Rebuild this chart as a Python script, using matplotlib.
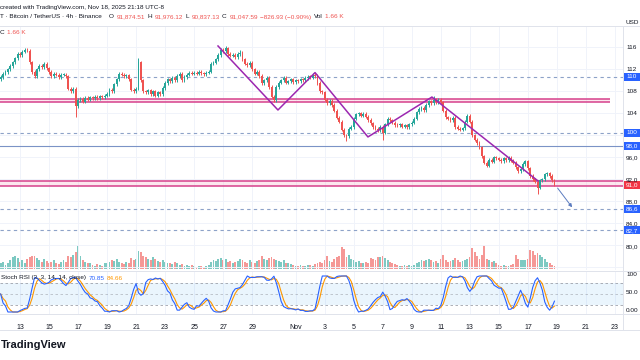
import matplotlib
matplotlib.use("Agg")
import matplotlib.pyplot as plt
import matplotlib.dates as mdates
from matplotlib.lines import Line2D
from matplotlib.patches import Rectangle
import numpy as np
import pandas as pd

plt.rcParams['font.family'] = ['Liberation Sans', 'DejaVu Sans']

# BTCUSDT 4h closes (thousands), UTC-8, first bar Oct 11 16:00, then 6 bars per day
closes = [
    110.6, 111.2,                                  # Oct 11
    111.5, 112.0, 112.6, 113.3, 114.0, 114.8,      # Oct 12
    114.6, 115.2, 115.5, 115.4, 113.3, 111.5,      # Oct 13
    110.8, 112.0, 112.6, 112.4, 113.0, 112.2,      # Oct 14
    111.5, 110.8, 111.2, 111.0, 110.6, 111.0,      # Oct 15
    111.0, 110.7, 108.5, 108.0, 108.4, 105.3,      # Oct 16
    106.4, 106.6, 106.1, 106.8, 106.5, 106.9,      # Oct 17
    106.8, 107.0, 106.7, 107.1, 106.9, 107.2,      # Oct 18
    107.5, 108.3, 108.0, 109.3, 110.2, 111.2,      # Oct 19
    111.0, 110.7, 110.9, 110.2, 108.3, 108.0,      # Oct 20
    108.5, 113.3, 110.0, 108.0, 107.8, 108.2,      # Oct 21
    107.5, 108.0, 107.2, 107.8, 107.5, 108.6,      # Oct 22
    109.5, 110.2, 109.8, 110.4, 110.0, 110.8,      # Oct 23
    111.2, 110.0, 110.6, 111.0, 111.4, 111.2,      # Oct 24
    111.4, 111.2, 111.5, 111.3, 111.1, 111.4,      # Oct 25
    111.6, 113.0, 113.2, 113.8, 114.6, 115.5,      # Oct 26
    115.3, 115.8, 114.8, 114.5, 114.6, 114.2,      # Oct 27
    114.8, 115.0, 113.8, 113.0, 112.7, 113.2,      # Oct 28
    112.0, 111.2, 111.5, 110.8, 109.5, 110.0,      # Oct 29
    110.5, 108.8, 107.0, 106.4, 108.8, 109.6,      # Oct 30
    110.0, 110.4, 109.6, 109.8, 110.2, 109.7,      # Oct 31
    110.0, 109.8, 110.2, 110.0, 110.4, 110.6,      # Nov 1
    110.5, 111.0, 110.8, 109.5, 108.0, 107.8,      # Nov 2
    106.5, 105.8, 106.3, 105.5, 104.5, 103.2,      # Nov 3
    102.5, 101.0, 100.0, 99.8, 101.2, 101.5,       # Nov 4
    103.0, 103.8, 104.0, 103.6, 103.9, 103.4,      # Nov 5
    102.8, 102.2, 101.5, 101.2, 100.9, 101.5,      # Nov 6
    100.5, 102.0, 103.0, 102.7, 102.3, 101.9,      # Nov 7
    101.8, 102.0, 101.6, 101.8, 101.5, 102.0,      # Nov 8
    102.3, 103.0, 104.2, 104.8, 105.0, 104.6,      # Nov 9
    105.5, 106.2, 105.8, 106.5, 106.0, 106.4,      # Nov 10
    106.0, 104.5, 103.3, 103.0, 102.8, 103.2,      # Nov 11
    101.5, 101.2, 101.0, 101.3, 102.5, 103.6,      # Nov 12
    102.5, 100.0, 99.2, 98.6, 97.8, 96.2,          # Nov 13
    95.0, 94.5, 95.5, 95.2, 96.0, 95.8,            # Nov 14
    95.6, 95.3, 95.8, 95.5, 95.9, 95.4,            # Nov 15
    95.0, 94.2, 93.5, 93.8, 94.8, 95.3,            # Nov 16
    94.0, 92.6, 92.0, 91.6, 90.5, 91.8,            # Nov 17
    92.0, 92.9, 93.1, 92.6, 91.87451, 91.04759,    # Nov 18
]
first_open = 110.2

volumes = [
    20, 25,
    15, 20, 30, 40, 45, 38,
    25, 30, 22, 35, 40, 45,
    45, 38, 30, 25, 35, 28,
    20, 25, 30, 22, 18, 25,
    30, 25, 45, 40, 50, 58,
    80, 45, 30, 25, 20, 22,
    15, 12, 18, 14, 10, 20,
    22, 25, 30, 28, 35, 25,
    20, 18, 25, 22, 38, 30,
    35, 62, 58, 45, 40, 35,
    30, 40, 35, 28, 25, 30,
    25, 20, 22, 18, 25, 20,
    15, 18, 12, 15, 10, 14,
    10, 8, 12, 10, 8, 12,
    15, 25, 30, 28, 35, 38,
    30, 35, 25, 28, 22, 25,
    28, 35, 30, 25, 22, 30,
    25, 22, 28, 30, 45, 35,
    30, 38, 40, 35, 30, 28,
    25, 30, 22, 20, 18, 15,
    12, 10, 14, 12, 10, 15,
    15, 12, 18, 20, 25, 22,
    30, 45, 28, 25, 35, 40,
    45, 75, 68, 40, 48, 35,
    30, 25, 28, 22, 20, 25,
    22, 38, 35, 30, 40, 42,
    45, 38, 30, 25, 20, 18,
    15, 12, 10, 14, 12, 15,
    12, 15, 20, 25, 30, 28,
    32, 35, 30, 25, 28, 22,
    35, 48, 30, 25, 28, 30,
    38, 30, 25, 28, 32, 35,
    40, 72, 60, 45, 35, 50,
    82, 35, 30, 25, 28, 20,
    15, 12, 14, 10, 12, 15,
    18, 48, 35, 30, 32, 30,
    35, 65, 62, 50, 55, 48,
    40, 35, 25, 20, 15, 12,
]

# notable wick extremes
wick_high = {"2025-10-21 04:00": 114.0, "2025-10-27 04:00": 116.2,
             "2025-10-28 04:00": 115.6, "2025-11-10 12:00": 107.2,
             "2025-11-18 20:00": 91.97612}
wick_low = {"2025-10-16 20:00": 103.3, "2025-10-30 12:00": 106.0,
            "2025-11-04 12:00": 98.9, "2025-11-07 00:00": 99.2,
            "2025-11-17 16:00": 89.4, "2025-11-18 20:00": 90.83713}

# drawings
zig_times = ["2025-10-26 15:30", "2025-10-30 18:40", "2025-11-02 08:00",
             "2025-11-05 23:30", "2025-11-10 09:20", "2025-11-17 16:50"]
zig_prices = [116.24, 104.6, 111.4, 99.7, 106.96, 91.7]
arrow_times = ["2025-11-18 22:30", "2025-11-20 04:00"]
arrow_prices = [90.8, 86.5]
dashed_levels = [110.65, 100.5, 86.6, 82.7]
solid_level = 98.05
zone_upper = (106.0, 106.6)
zone_lower = (90.85, 91.75)
price_ticks = [116, 112, 108, 104, 96, 92, 88, 84]
tick_texts = ["116", "112", "108", "104", "96,0", "92,0", "88,0", "84,0"]
box_texts = ["110", "100", "86,6", "82,7", "98,0"]

W, H = 640, 360
def fx(px): return px / W
def fy(py): return 1 - py / H

UP, DN = "#26a69a", "#ef5350"
GRID = "#f0f3fa"
TXT = "#131722"
FS = 4.6

fig = plt.figure(figsize=(6.4, 3.6), dpi=100)
fig.patch.set_facecolor("white")
renderer = fig.canvas.get_renderer()

base = mdates.date2num(pd.Timestamp("2025-10-13"))
ppd = 14.51
xlim = (base + (0 - 20) / ppd, base + (623 - 20) / ppd)
def py2price(py): return 116 - (py - 47.3) / 5.5
def price2py(p): return 47.3 + (116 - p) * 5.5

ax = fig.add_axes([0, fy(270), fx(623), (270 - 26) / H])
axv = fig.add_axes([0, fy(269), fx(623), 29 / H])
axr = fig.add_axes([0, fy(314), fx(623), (314 - 272) / H])
axv.set_zorder(0); ax.set_zorder(1); axr.set_zorder(1)
ax.patch.set_alpha(0)
for a in (ax, axv, axr):
    a.set_xlim(*xlim)
    for s in a.spines.values():
        s.set_visible(False)
    a.tick_params(left=False, right=False, labelleft=False, bottom=False, labelbottom=False)

times = pd.date_range("2025-10-11 16:00", periods=len(closes), freq="4h")
t = mdates.date2num(times)
c = np.array(closes)
o = np.array([first_open] + closes[:-1])
hi = np.maximum(o, c) + 0.3
lo = np.minimum(o, c) - 0.3
for k, v in wick_high.items():
    hi[times.get_loc(pd.Timestamp(k))] = v
for k, v in wick_low.items():
    lo[times.get_loc(pd.Timestamp(k))] = v
cols = [UP if cc >= oo else DN for oo, cc in zip(o, c)]

# date ticks / grid
tick_days = [pd.Timestamp(f"2025-10-{d}") for d in range(13, 30, 2)] + \
            [pd.Timestamp(f"2025-11-{d:02d}") for d in [1] + list(range(3, 24, 2))]
tick_lbls = [str(d.day) if not (d.month == 11 and d.day == 1) else "Nov" for d in tick_days]
tick_x = mdates.date2num(tick_days)

ax.set_ylim(py2price(270), py2price(26))
for p in price_ticks + [100, 80, 76]:
    ax.axhline(p, color=GRID, lw=0.7, zorder=0)
for xv in tick_x:
    ax.axvline(xv, color=GRID, lw=0.7, zorder=0)
    axr.axvline(xv, color=GRID, lw=0.7, zorder=0)

# volume
axv.set_ylim(0, 100)
axv.bar(t, volumes, width=0.13, color=cols, alpha=0.6, linewidth=0)

# zones and levels
x_zone_end = base + (610 - 20) / ppd
ax.fill_between([xlim[0], x_zone_end], *zone_upper, color="#f8bbd0", alpha=0.35, lw=0, zorder=1)
ax.hlines(zone_upper, xlim[0], x_zone_end, color="#d6408c", lw=1.1, zorder=2)
ax.axhspan(*zone_lower, color="#f8bbd0", alpha=0.35, lw=0, zorder=1)
for p in zone_lower:
    ax.axhline(p, color="#d6408c", lw=1.1, zorder=2)
for p in dashed_levels:
    ax.axhline(p, color="#8da2c8", lw=0.8, ls=(0, (3, 3)), zorder=2)
ax.axhline(solid_level, color="#7b93c6", lw=0.8, zorder=2)

# candles
body = np.where(np.abs(c - o) < 0.1, 0.1, c - o)
ax.vlines(t, lo, hi, colors=cols, lw=0.7, zorder=3)
ax.bar(t, body, bottom=o, width=0.13, color=cols, linewidth=0, zorder=4)

# drawings
ax.plot(mdates.date2num(pd.to_datetime(zig_times)), zig_prices, color="#9c27b0", lw=1.1, zorder=5)
at = mdates.date2num(pd.to_datetime(arrow_times))
ax.annotate("", xy=(at[1], arrow_prices[1]), xytext=(at[0], arrow_prices[0]),
            arrowprops=dict(arrowstyle="-|>", color="#5b7bbf", lw=0.7, mutation_scale=5), zorder=5)

# stoch RSI computed from the closes
s = pd.Series(closes)
delta = s.diff().fillna(0)
up = delta.clip(lower=0).ewm(alpha=1 / 14, adjust=False).mean()
dn = (-delta.clip(upper=0)).ewm(alpha=1 / 14, adjust=False).mean()
rsi = (100 - 100 / (1 + up / dn)).fillna(50)
rlo = rsi.rolling(14, min_periods=1).min()
rhi = rsi.rolling(14, min_periods=1).max()
stoch = ((rsi - rlo) / (rhi - rlo)).replace([np.inf, -np.inf], np.nan).fillna(0.5) * 100
kline = stoch.rolling(3, min_periods=1).mean()
dline = kline.rolling(3, min_periods=1).mean()

axr.set_ylim(100 + 2 / 0.36, -4 / 0.36)
axr.axhspan(20, 80, color="#2196f3", alpha=0.09, lw=0)
for lv in (80, 50, 20):
    axr.axhline(lv, color="#9598a1", lw=0.6, ls=(0, (3, 3)), alpha=0.9 if lv != 50 else 0.6)
axr.plot(t, dline, color="#ff9800", lw=0.8)
axr.plot(t, kline, color="#2962ff", lw=0.8)
axr.set_xticks(tick_x)
axr.set_xticklabels(tick_lbls, fontsize=5, color=TXT)
axr.tick_params(bottom=False, labelbottom=True, pad=4)

# separators
def hline(py, x0=0, x1=640, color="#e0e3eb"):
    fig.add_artist(Line2D([fx(x0), fx(x1)], [fy(py), fy(py)], color=color, lw=0.7))
def vline(px, y0, y1, color="#e0e3eb"):
    fig.add_artist(Line2D([fx(px), fx(px)], [fy(y0), fy(y1)], color=color, lw=0.7))
hline(26)
hline(271)
hline(314)
hline(330)
vline(623, 26, 330)

# right scale labels (the screenshot is cropped at the right)
def rlabel(py, txt, color=TXT):
    fig.text(fx(626), fy(py), txt, fontsize=FS, color=color, va="center", ha="left")
for p, txt in zip(price_ticks, tick_texts):
    rlabel(price2py(p), txt)
rlabel(247, "80,0")
rlabel(274, "100")
rlabel(292, "50.0")
rlabel(310, "0.00")
fig.text(fx(626), fy(22), "USD", fontsize=FS, color=TXT, va="center")

def box(price, txt, color):
    py = price2py(price)
    fig.add_artist(Rectangle((fx(624), fy(py + 4)), fx(16), 8 / H, facecolor=color,
                             edgecolor="none", transform=fig.transFigure))
    fig.text(fx(626), fy(py), txt, fontsize=FS, color="white", va="center", ha="left")
for p, txt in zip(dashed_levels + [solid_level], box_texts):
    box(p, txt, "#2962ff")
box(closes[-1], "91,0", "#f23645")


def run_text(x_px, y_px, pieces, gap=2.5):
    # lay out pieces of text one after the other
    x = x_px
    for txt, col in pieces:
        tt = fig.text(fx(x), fy(y_px), txt, fontsize=FS, color=col, va="center")
        bb = tt.get_window_extent(renderer)
        x = bb.x1 + gap


# header
fig.text(fx(0), fy(8), "created with TradingView.com, Nov 18, 2025 21:18 UTC-8",
         fontsize=FS, color=TXT, va="center")
run_text(0, 17, [("T · Bitcoin / TetherUS · 4h · Binance", TXT)])
run_text(109, 17, [("O", TXT), ("91,874.51", DN), ("H", TXT), ("91,976.12", DN),
                   ("L", TXT), ("90,837.13", DN), ("C", TXT), ("91,047.59", DN),
                   ("−826.93 (−0.90%)", DN), ("Vol", TXT), ("1.66 K", DN)])
run_text(0, 32, [("C", TXT), ("1.66 K", DN)])

run_text(1, 278, [("Stoch RSI (3, 3, 14, 14, close)", TXT), ("70.85", "#2962ff"),
                  ("84.66", "#ff9800")])

fig.text(fx(1), fy(345), "TradingView", fontsize=8, fontweight="bold", color=TXT, va="center")

fig.savefig("out.png", dpi=100)
